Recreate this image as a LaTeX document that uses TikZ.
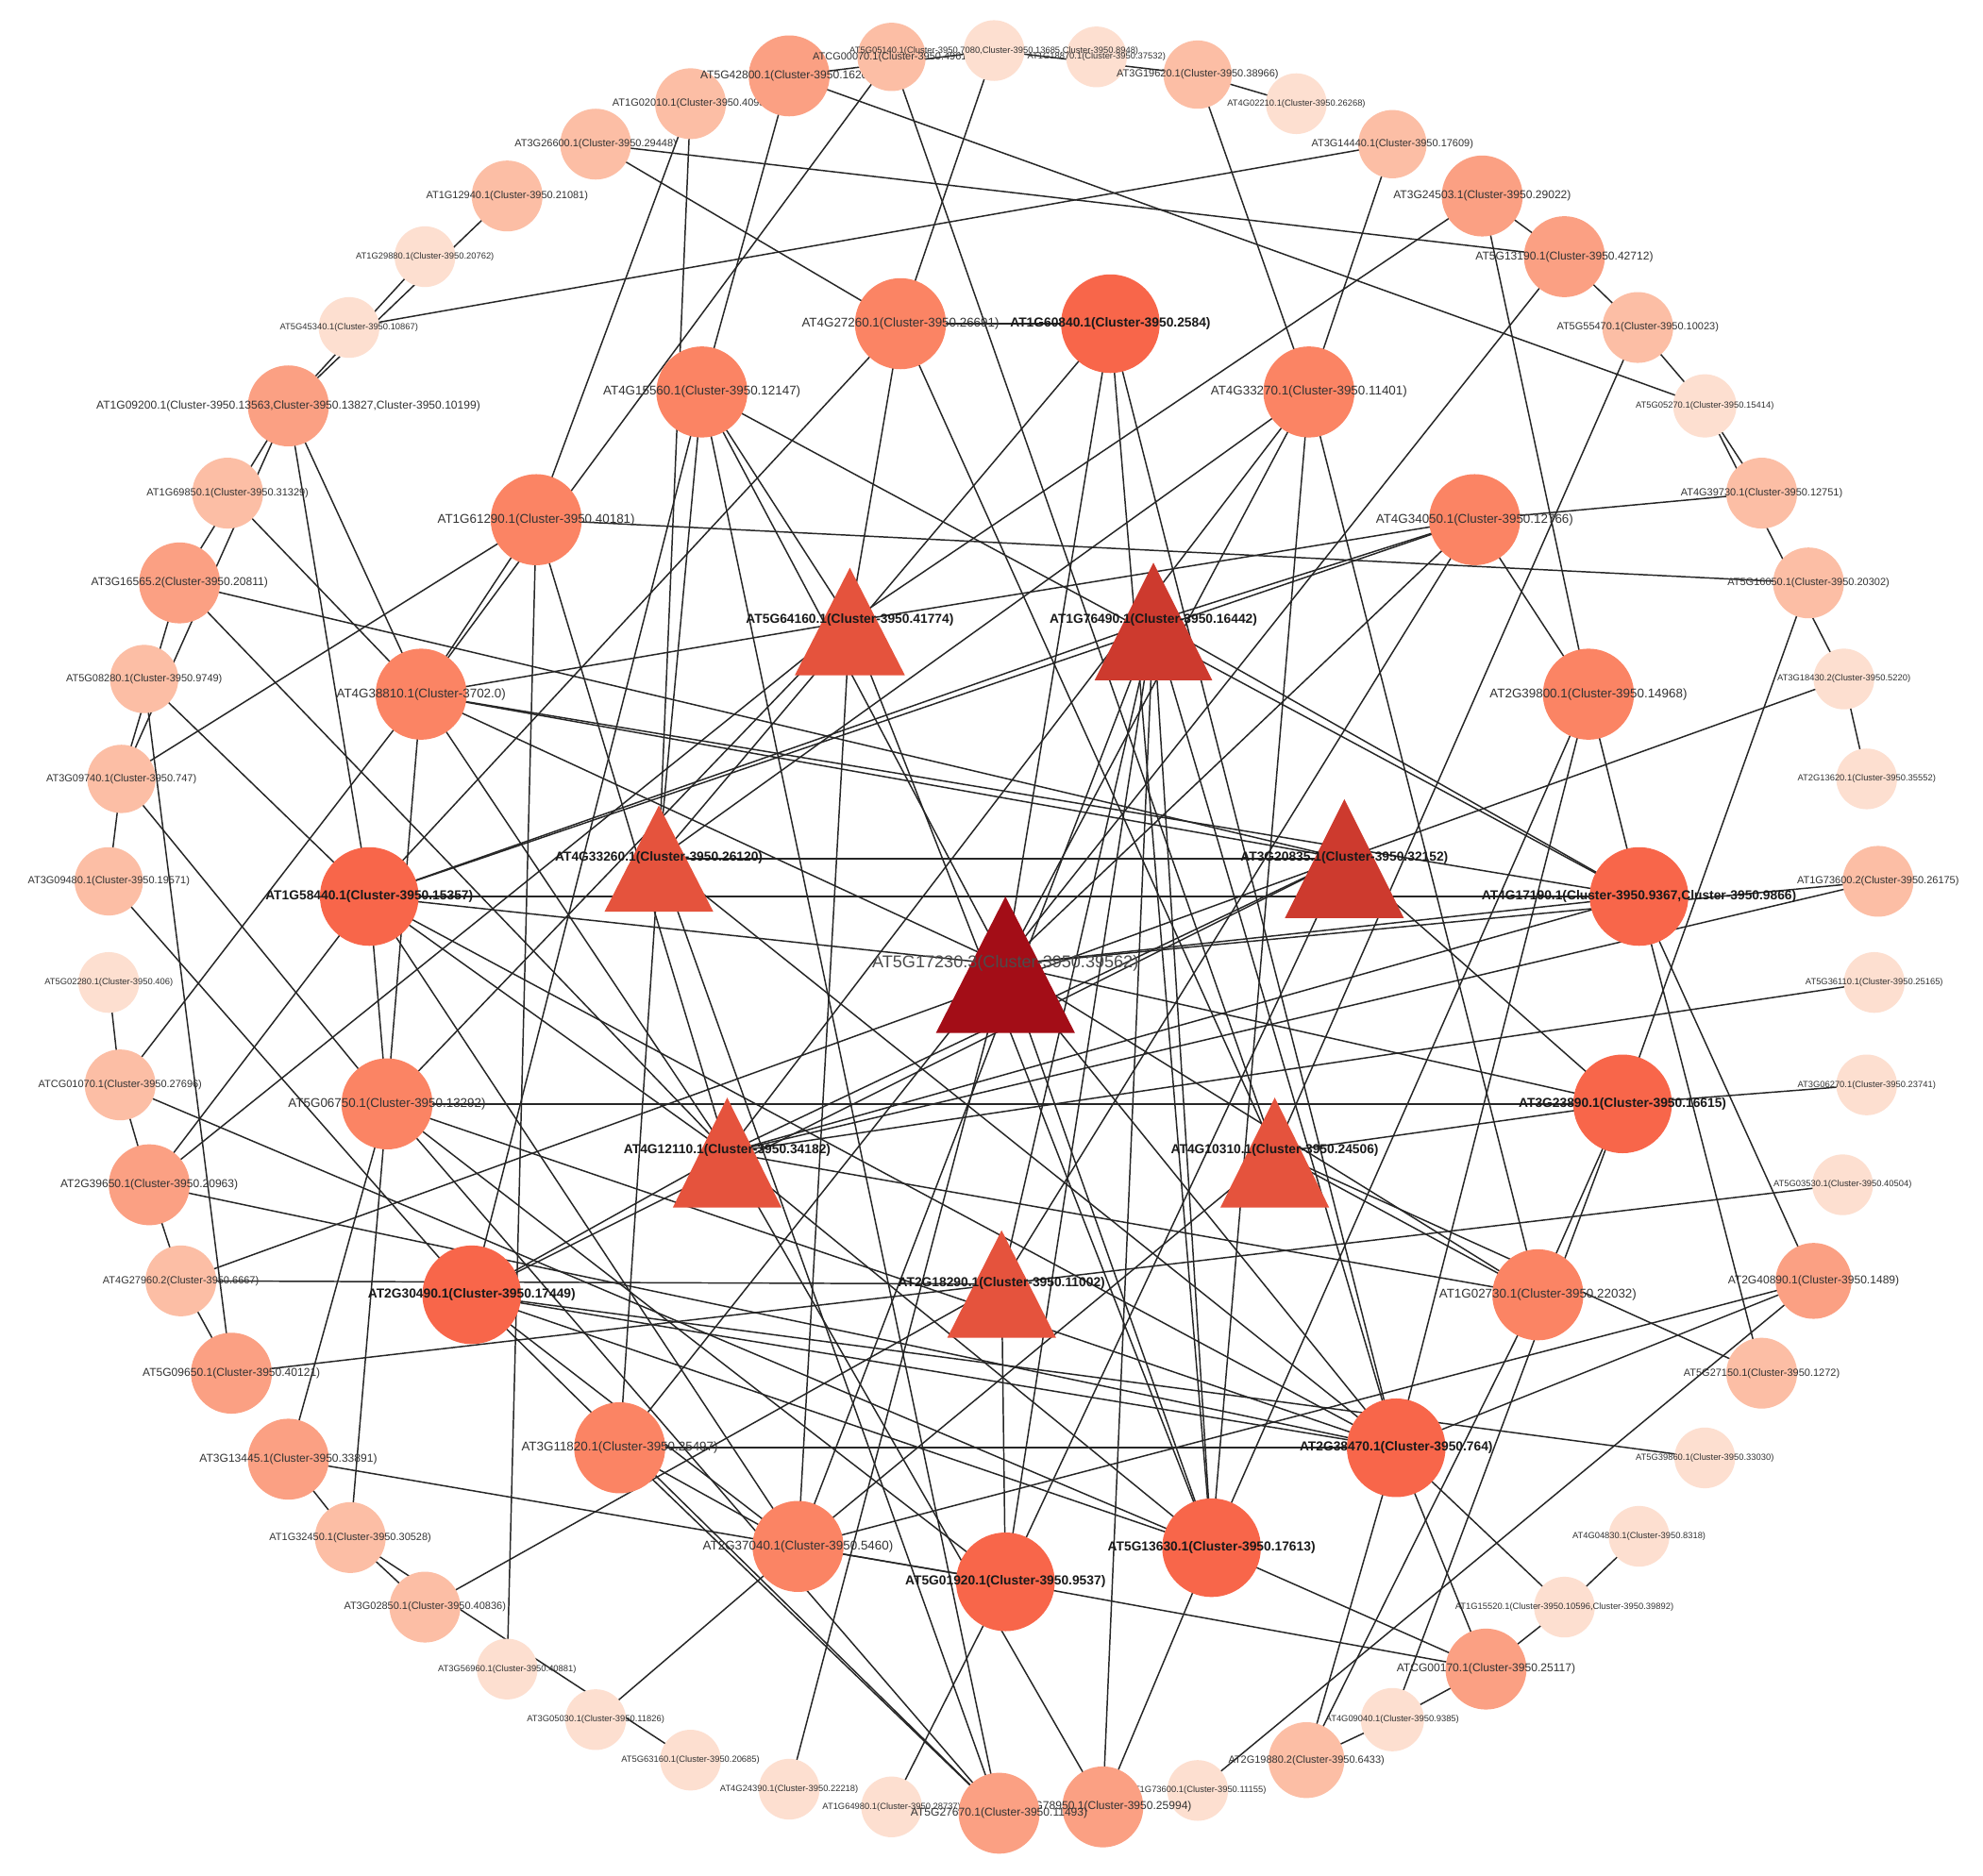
\documentclass[tikz,border=0pt]{standalone}
\usepackage{fontspec}
\newfontfamily\arial{Liberation Sans}
\pgfdeclarelayer{bg}
\pgfsetlayers{bg,main}
\definecolor{cvl}{HTML}{FDDFD0}
\definecolor{cl}{HTML}{FCBEA5}
\definecolor{cm}{HTML}{FBA083}
\definecolor{ci}{HTML}{FB8464}
\definecolor{cb}{HTML}{F8664A}
\definecolor{ta}{HTML}{E5533D}
\definecolor{tb}{HTML}{CD3A2E}
\definecolor{tc}{HTML}{A30D17}
\tikzset{
 lvl/.style={font=\arial\fontsize{7}{8}\selectfont,text=black!80},
 ll/.style={font=\arial\fontsize{8.2}{9}\selectfont,text=black!80},
 lm/.style={font=\arial\fontsize{9}{10}\selectfont,text=black!80},
 li/.style={font=\arial\fontsize{10}{11}\selectfont,text=black!80},
 lb/.style={font=\arial\bfseries\fontsize{10.3}{11}\selectfont,text=black!90,inner sep=0pt},
 lc/.style={font=\arial\fontsize{13.5}{14}\selectfont,text=black!70,inner sep=0pt},
 edge/.style={line width=1.1pt,draw=black!85},
}
% circle node: name, x, y, r, colour, label style, text
\newcommand\cn[7]{\node[circle,fill=#5,draw=none,minimum size={2*#4pt},inner sep=0pt,label={[#6]center:{#7}}] (#1) at (#2,#3) {};}
% triangle node: name, x, apex y, base y, half width, colour, label y, label style, text
\newcommand\tn[9]{%
 \fill[#6] (#2-#5,#4) -- (#2,#3) -- (#2+#5,#4) -- cycle;
 \coordinate (#1) at (#2,{(#3+#4)/2});
 \node[#8] (#1-l) at (#2,#7) {#9};}
\begin{document}
\begin{tikzpicture}[x=1pt,y=-1pt]
\useasboundingbox (0,0) rectangle (1568,1483);
% ---------- outer ring ----------
\cn{AT3G26600}{471}{114}{28}{cl}{ll}{AT3G26600.1(Cluster-3950.29448)}
\cn{AT1G02010}{546}{82}{28}{cl}{ll}{AT1G02010.1(Cluster-3950.4093)}
\cn{AT5G42800}{624}{60}{32}{cm}{lm}{AT5G42800.1(Cluster-3950.16201)}
\cn{AT1G18870}{867}{45}{24}{cvl}{lvl}{AT1G18870.1(Cluster-3950.37532)}
\cn{ATCG00070}{705}{45}{27}{cl}{ll}{ATCG00070.1(Cluster-3950.4961)}
\cn{AT5G05140}{786}{40}{24}{cvl}{lvl}{AT5G05140.1(Cluster-3950.7080,Cluster-3950.13685,Cluster-3950.8948)}
\cn{AT3G19620}{947}{59}{27}{cl}{ll}{AT3G19620.1(Cluster-3950.38966)}
\cn{AT4G02210}{1025}{82}{24}{cvl}{lvl}{AT4G02210.1(Cluster-3950.26268)}
\cn{AT3G14440}{1101}{114}{27}{cl}{ll}{AT3G14440.1(Cluster-3950.17609)}
\cn{AT3G24503}{1172}{155}{32}{cm}{lm}{AT3G24503.1(Cluster-3950.29022)}
\cn{AT5G13190}{1237}{203}{32}{cm}{lm}{AT5G13190.1(Cluster-3950.42712)}
\cn{AT5G55470}{1295}{259}{28}{cl}{ll}{AT5G55470.1(Cluster-3950.10023)}
\cn{AT5G05270}{1348}{321}{25}{cvl}{lvl}{AT5G05270.1(Cluster-3950.15414)}
\cn{AT4G39730}{1393}{390}{28}{cl}{ll}{AT4G39730.1(Cluster-3950.12751)}
\cn{AT5G16050}{1430}{461}{28}{cl}{ll}{AT5G16050.1(Cluster-3950.20302)}
\cn{AT3G18430}{1458}{537}{24}{cvl}{lvl}{AT3G18430.2(Cluster-3950.5220)}
\cn{AT2G13620}{1476}{616}{24}{cvl}{lvl}{AT2G13620.1(Cluster-3950.35552)}
\cn{AT1G73600b}{1485}{697}{28}{cl}{ll}{AT1G73600.2(Cluster-3950.26175)}
\cn{AT5G36110}{1482}{777}{24}{cvl}{lvl}{AT5G36110.1(Cluster-3950.25165)}
\cn{AT3G06270}{1476}{858}{24}{cvl}{lvl}{AT3G06270.1(Cluster-3950.23741)}
\cn{AT5G03530}{1457}{937}{24}{cvl}{lvl}{AT5G03530.1(Cluster-3950.40504)}
\cn{AT2G40890}{1434}{1013}{30}{cm}{lm}{AT2G40890.1(Cluster-3950.1489)}
\cn{AT5G27150}{1393}{1086}{28}{cl}{ll}{AT5G27150.1(Cluster-3950.1272)}
\cn{AT5G39860}{1348}{1153}{24}{cvl}{lvl}{AT5G39860.1(Cluster-3950.33030)}
\cn{AT4G04830}{1296}{1215}{24}{cvl}{lvl}{AT4G04830.1(Cluster-3950.8318)}
\cn{AT1G15520}{1237}{1271}{24}{cvl}{lvl}{AT1G15520.1(Cluster-3950.10596,Cluster-3950.39892)}
\cn{ATCG00170}{1175}{1320}{32}{cm}{lm}{ATCG00170.1(Cluster-3950.25117)}
\cn{AT4G09040}{1101}{1360}{25}{cvl}{lvl}{AT4G09040.1(Cluster-3950.9385)}
\cn{AT2G19880}{1033}{1392}{30}{cl}{ll}{AT2G19880.2(Cluster-3950.6433)}
\cn{AT1G73600a}{947}{1416}{24}{cvl}{lvl}{AT1G73600.1(Cluster-3950.11155)}
\cn{AT1G78950}{872}{1429}{32}{cm}{lm}{AT1G78950.1(Cluster-3950.25994)}
\cn{AT1G64980}{705}{1429}{24}{cvl}{lvl}{AT1G64980.1(Cluster-3950.28737)}
\cn{AT5G27670}{790}{1434}{32}{cm}{lm}{AT5G27670.1(Cluster-3950.11493)}
\cn{AT4G24390}{624}{1415}{24}{cvl}{lvl}{AT4G24390.1(Cluster-3950.22218)}
\cn{AT5G63160}{546}{1392}{24}{cvl}{lvl}{AT5G63160.1(Cluster-3950.20685)}
\cn{AT3G05030}{471}{1360}{24}{cvl}{lvl}{AT3G05030.1(Cluster-3950.11826)}
\cn{AT3G56960}{401}{1320}{24}{cvl}{lvl}{AT3G56960.1(Cluster-3950.40881)}
\cn{AT3G02850}{336}{1271}{28}{cl}{ll}{AT3G02850.1(Cluster-3950.40836)}
\cn{AT1G32450}{277}{1216}{28}{cl}{ll}{AT1G32450.1(Cluster-3950.30528)}
\cn{AT3G13445}{228}{1154}{32}{cm}{lm}{AT3G13445.1(Cluster-3950.33891)}
\cn{AT5G09650}{183}{1086}{32}{cm}{lm}{AT5G09650.1(Cluster-3950.40121)}
\cn{AT4G27960}{143}{1013}{28}{cl}{ll}{AT4G27960.2(Cluster-3950.6667)}
\cn{AT2G39650}{118}{937}{32}{cm}{lm}{AT2G39650.1(Cluster-3950.20963)}
\cn{ATCG01070}{95}{858}{28}{cl}{ll}{ATCG01070.1(Cluster-3950.27696)}
\cn{AT5G02280}{86}{777}{24}{cvl}{lvl}{AT5G02280.1(Cluster-3950.406)}
\cn{AT3G09480}{86}{697}{27}{cl}{ll}{AT3G09480.1(Cluster-3950.19571)}
\cn{AT3G09740}{96}{616}{27}{cl}{ll}{AT3G09740.1(Cluster-3950.747)}
\cn{AT5G08280}{114}{537}{27}{cl}{ll}{AT5G08280.1(Cluster-3950.9749)}
\cn{AT3G16565}{142}{461}{32}{cm}{lm}{AT3G16565.2(Cluster-3950.20811)}
\cn{AT1G69850}{180}{390}{28}{cl}{ll}{AT1G69850.1(Cluster-3950.31329)}
\cn{AT1G09200}{228}{321}{32}{cm}{lm}{AT1G09200.1(Cluster-3950.13563,Cluster-3950.13827,Cluster-3950.10199)}
\cn{AT5G45340}{276}{259}{24}{cvl}{lvl}{AT5G45340.1(Cluster-3950.10867)}
\cn{AT1G29880}{336}{203}{24}{cvl}{lvl}{AT1G29880.1(Cluster-3950.20762)}
\cn{AT1G12940}{401}{155}{28}{cl}{ll}{AT1G12940.1(Cluster-3950.21081)}
% ---------- inner ring ----------
\cn{AT4G27260}{712}{256}{36}{ci}{li}{AT4G27260.1(Cluster-3950.26691)}
\cn{AT1G60840}{878}{256}{39}{cb}{lb}{AT1G60840.1(Cluster-3950.2584)}
\cn{AT4G33270}{1035}{310}{36}{ci}{li}{AT4G33270.1(Cluster-3950.11401)}
\cn{AT4G34050}{1166}{411}{36}{ci}{li}{AT4G34050.1(Cluster-3950.12766)}
\cn{AT2G39800}{1256}{549}{36}{ci}{li}{AT2G39800.1(Cluster-3950.14968)}
\cn{AT4G17190}{1296}{709}{39}{cb}{lb}{AT4G17190.1(Cluster-3950.9367,Cluster-3950.9866)}
\cn{AT3G23890}{1283}{873}{39}{cb}{lb}{AT3G23890.1(Cluster-3950.16615)}
\cn{AT1G02730}{1216}{1024}{36}{ci}{li}{AT1G02730.1(Cluster-3950.22032)}
\cn{AT2G38470}{1104}{1145}{39}{cb}{lb}{AT2G38470.1(Cluster-3950.764)}
\cn{AT5G13630}{958}{1224}{39}{cb}{lb}{AT5G13630.1(Cluster-3950.17613)}
\cn{AT5G01920}{795}{1251}{39}{cb}{lb}{AT5G01920.1(Cluster-3950.9537)}
\cn{AT2G37040}{631}{1223}{36}{ci}{li}{AT2G37040.1(Cluster-3950.5460)}
\cn{AT3G11820}{490}{1145}{36}{ci}{li}{AT3G11820.1(Cluster-3950.25497)}
\cn{AT2G30490}{373}{1024}{39}{cb}{lb}{AT2G30490.1(Cluster-3950.17449)}
\cn{AT5G06750}{306}{873}{36}{ci}{li}{AT5G06750.1(Cluster-3950.13292)}
\cn{AT1G58440}{292}{709}{39}{cb}{lb}{AT1G58440.1(Cluster-3950.15357)}
\cn{AT4G38810}{333}{549}{36}{ci}{li}{AT4G38810.1(Cluster-3702.0)}
\cn{AT1G61290}{424}{411}{36}{ci}{li}{AT1G61290.1(Cluster-3950.40181)}
\cn{AT4G15560}{555}{310}{36}{ci}{li}{AT4G15560.1(Cluster-3950.12147)}
% ---------- triangles ----------
\tn{AT5G64160}{672}{449}{534}{43.5}{ta}{490}{lb}{AT5G64160.1(Cluster-3950.41774)}
\tn{AT1G76490}{912}{445}{538}{46.5}{tb}{490}{lb}{AT1G76490.1(Cluster-3950.16442)}
\tn{AT4G33260}{521}{637}{721}{43}{ta}{678}{lb}{AT4G33260.1(Cluster-3950.26120)}
\tn{AT3G20835}{1063}{632}{726}{47}{tb}{678}{lb}{AT3G20835.1(Cluster-3950.32152)}
\tn{AT5G17230}{795}{709}{817}{55}{tc}{762}{lc}{AT5G17230.3(Cluster-3950.39562)}
\tn{AT4G12110}{575}{868}{955}{43}{ta}{910}{lb}{AT4G12110.1(Cluster-3950.34182)}
\tn{AT4G10310}{1008}{868}{955}{43}{ta}{910}{lb}{AT4G10310.1(Cluster-3950.24506)}
\tn{AT2G18290}{792}{973}{1058}{43}{ta}{1015}{lb}{AT2G18290.1(Cluster-3950.11002)}
% ---------- edges ----------
\begin{pgfonlayer}{bg}
\fill[white] (0,0) rectangle (1568,1483);
\foreach \a/\b in {
AT3G26600/AT5G13190, AT5G42800/AT5G05270, AT5G45340/AT3G14440, AT3G26600/AT4G27260,
AT1G02010/AT4G33260, AT1G02010/AT1G61290, ATCG00070/AT4G38810, ATCG00070/AT4G10310,
AT5G42800/AT4G15560, AT5G42800/AT5G05140, AT5G05140/AT4G27260, AT5G05140/AT3G19620,
AT3G19620/AT4G02210, AT3G19620/AT4G33270, AT3G14440/AT4G33270, AT3G24503/AT5G13190,
AT3G24503/AT5G64160, AT3G24503/AT2G39800, AT5G13190/AT5G55470, AT5G13190/AT3G11820,
AT5G55470/AT5G05270, AT5G55470/AT4G10310, AT5G05270/AT3G18430, AT5G05270/AT4G39730,
AT4G39730/AT4G34050, AT3G18430/AT2G13620, AT1G61290/AT5G16050, AT5G16050/AT3G23890,
AT3G18430/AT3G20835, AT1G73600b/AT5G17230, AT1G73600b/AT4G12110, AT5G36110/AT4G12110,
AT3G06270/AT3G23890, AT5G03530/AT2G18290, AT2G40890/AT2G37040, AT2G40890/AT2G38470,
AT4G34050/AT2G39800, AT2G39800/AT4G17190, AT4G17190/AT2G40890, AT4G17190/AT5G27150,
AT4G10310/AT5G27150, AT2G30490/AT5G39860, AT4G04830/AT1G15520, AT2G38470/AT1G15520,
AT1G15520/ATCG00170, AT2G38470/ATCG00170, AT5G13630/ATCG00170, AT5G01920/ATCG00170,
AT4G09040/ATCG00170, AT3G23890/AT4G09040, AT4G09040/AT2G19880, AT2G19880/AT2G38470,
AT1G73600a/AT2G40890, AT1G12940/AT1G09200, AT1G29880/AT1G09200, AT1G09200/AT1G58440,
AT1G09200/AT4G38810, AT1G09200/AT3G16565, AT1G09200/AT3G09740, AT1G69850/AT4G38810,
AT3G16565/AT3G20835, AT3G16565/AT4G12110, AT3G16565/AT3G09740, AT5G08280/AT1G58440,
AT5G08280/AT5G09650, AT3G09740/AT1G61290, AT3G09740/AT5G06750, AT3G09740/AT3G09480,
AT3G09480/AT2G30490, AT5G02280/ATCG01070, ATCG01070/AT4G38810, ATCG01070/AT5G13630,
ATCG01070/AT2G39650, AT2G39650/AT1G58440, AT2G39650/AT5G64160, AT2G39650/AT2G38470,
AT2G39650/AT4G27960, AT4G27960/AT2G18290, AT4G27960/AT3G20835, AT4G27960/AT5G09650,
AT5G09650/AT2G18290, AT3G13445/AT5G06750, AT3G13445/AT5G01920, AT3G13445/AT1G32450,
AT1G32450/AT5G06750, AT1G32450/AT5G63160, AT1G32450/AT3G02850, AT3G02850/AT2G18290,
AT3G56960/AT1G61290, AT3G05030/AT2G37040, AT4G24390/AT5G17230, AT1G64980/AT5G01920,
AT2G30490/AT5G27670, AT3G11820/AT5G27670, AT4G15560/AT5G27670, AT1G78950/AT1G76490,
AT1G78950/AT5G13630, AT4G12110/AT1G78950, AT3G23890/AT1G02730, AT2G19880/AT1G02730,
AT4G27260/AT1G60840, AT4G27260/AT1G58440, AT4G27260/AT5G64160, AT4G27260/AT4G10310,
AT1G60840/AT4G33260, AT1G60840/AT5G17230, AT1G60840/AT5G13630, AT1G60840/AT2G38470,
AT4G33270/AT4G33260, AT4G33270/AT4G12110, AT4G33270/AT5G17230, AT4G33270/AT5G13630,
AT4G33270/AT1G02730, AT4G34050/AT5G64160, AT4G34050/AT1G76490, AT4G34050/AT2G18290,
AT4G34050/AT5G17230, AT2G39800/AT5G13630, AT2G39800/AT2G38470, AT1G58440/AT4G17190,
AT4G33260/AT3G20835, AT4G15560/AT4G17190, AT4G38810/AT4G17190, AT5G06750/AT3G23890,
AT3G23890/AT5G17230, AT4G10310/AT3G23890, AT3G20835/AT3G23890, AT4G10310/AT1G02730,
AT1G02730/AT4G12110, AT1G02730/AT5G17230, AT3G11820/AT2G38470, AT1G58440/AT2G38470,
AT5G06750/AT2G38470, AT2G30490/AT2G38470, AT2G30490/AT5G13630, AT4G12110/AT5G13630,
AT2G18290/AT5G01920, AT1G76490/AT5G01920, AT3G20835/AT5G01920, AT2G37040/AT5G01920,
AT5G64160/AT2G37040, AT4G10310/AT2G37040, AT3G11820/AT2G37040, AT1G58440/AT2G37040,
AT4G33260/AT3G11820, AT2G30490/AT4G12110, AT2G30490/AT3G20835, AT2G30490/AT2G37040,
AT1G58440/AT5G06750, AT4G38810/AT5G06750, AT5G06750/AT5G27670, AT5G06750/AT5G01920,
AT1G58440/AT5G17230, AT1G58440/AT4G34050, AT1G58440/AT4G12110, AT4G38810/AT5G64160,
AT4G38810/AT3G20835, AT4G38810/AT5G17230, AT4G38810/AT4G12110, AT1G61290/AT4G38810,
AT1G61290/AT4G12110, AT4G15560/AT5G64160, AT4G15560/AT5G17230, AT4G15560/AT2G30490,
AT4G15560/AT4G33260, AT5G64160/AT5G13630, AT5G64160/AT5G06750, AT1G58440/AT1G76490,
AT1G76490/AT2G37040, AT1G76490/AT2G18290, AT1G76490/AT5G13630, AT1G76490/AT2G38470,
AT1G76490/AT4G17190, AT4G33260/AT2G38470, AT4G33260/AT5G27670, AT4G17190/AT5G17230,
AT4G17190/AT4G12110, AT3G20835/AT4G12110, AT5G17230/AT5G13630, AT5G17230/AT2G38470}
 \draw[edge] (\a.center) -- (\b.center);
\end{pgfonlayer}
\end{tikzpicture}
\end{document}
